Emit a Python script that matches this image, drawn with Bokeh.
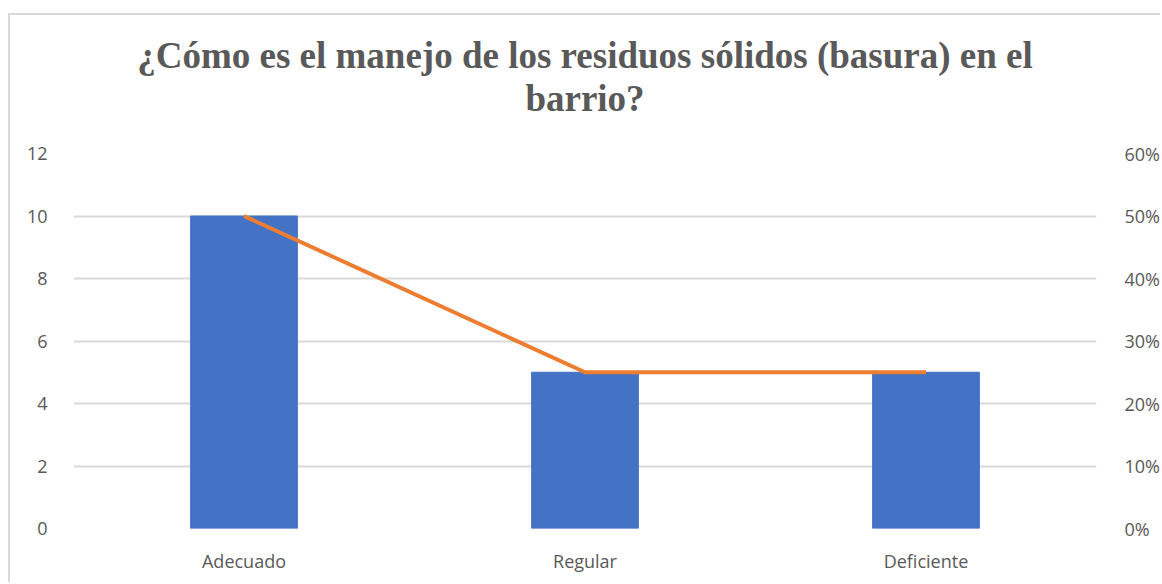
from bokeh.plotting import figure
from bokeh.models import Range1d, LinearAxis, FixedTicker, NumeralTickFormatter, Title
from bokeh.embed import file_html
from bokeh.resources import INLINE

categories = ["Adecuado", "Regular", "Deficiente"]
counts = [10, 5, 5]
percents = [0.50, 0.25, 0.25]
left_ticks = [0, 2, 4, 6, 8, 10, 12]
right_ticks = [0.0, 0.1, 0.2, 0.3, 0.4, 0.5, 0.6]
title_lines = ["¿Cómo es el manejo de los residuos sólidos (basura) en el", "barrio?"]

GRAY = "#595959"
GRID = "#d9d9d9"

p = figure(x_range=categories, y_range=Range1d(0, 12), width=1152, height=569,
           output_backend="svg", toolbar_location=None,
           min_border_left=63, min_border_right=66, min_border_top=138, min_border_bottom=56)
p.styles = {"border-left": "2px solid #d9d9d9", "border-top": "2px solid #d9d9d9",
            "margin-left": "8px", "margin-top": "13px"}
p.outline_line_color = None
p.background_fill_color = "white"
p.border_fill_alpha = 0

p.vbar(x=categories, top=counts, width=0.313, color="#4472C4")

p.extra_y_ranges = {"pct": Range1d(0, 0.6)}
p.line(x=categories, y=percents, y_range_name="pct", line_color="#ED7D31", line_width=4)

# blank spacer between the title block and the plot frame
p.add_layout(Title(text=" ", text_font="Liberation Serif", text_font_size="30px",
                   text_line_height=0.8, standoff=0), "above")
for ln in reversed(title_lines):
    t = Title(text=ln, align="center", text_font="Liberation Serif", text_font_size="37px",
              text_font_style="bold", text_color=GRAY, text_line_height=0.8, standoff=0)
    p.add_layout(t, "above")

# left axis
ya = p.yaxis[0]
ya.ticker = FixedTicker(ticks=left_ticks)
ya.axis_line_color = None
ya.major_tick_line_color = None
ya.minor_tick_line_color = None
ya.major_label_text_font = "Open Sans"
ya.major_label_text_font_size = "18px"
ya.major_label_text_color = GRAY
ya.major_label_standoff = 20

ra = LinearAxis(y_range_name="pct", ticker=FixedTicker(ticks=right_ticks),
                formatter=NumeralTickFormatter(format="0%"))
ra.axis_line_color = None
ra.major_tick_line_color = None
ra.minor_tick_line_color = None
ra.major_label_text_font = "Open Sans"
ra.major_label_text_font_size = "18px"
ra.major_label_text_color = GRAY
ra.major_label_standoff = 22
p.add_layout(ra, "right")

xa = p.xaxis[0]
xa.axis_line_color = None
xa.major_tick_line_color = None
xa.minor_tick_line_color = None
xa.major_label_text_font = "Open Sans"
xa.major_label_text_font_size = "18px"
xa.major_label_text_color = GRAY
xa.major_label_standoff = 14

p.xgrid.grid_line_color = None
p.ygrid.ticker = FixedTicker(ticks=left_ticks)
p.ygrid.grid_line_color = GRID
p.ygrid.grid_line_width = 2

open("out.html", "w").write(file_html(p, INLINE))
